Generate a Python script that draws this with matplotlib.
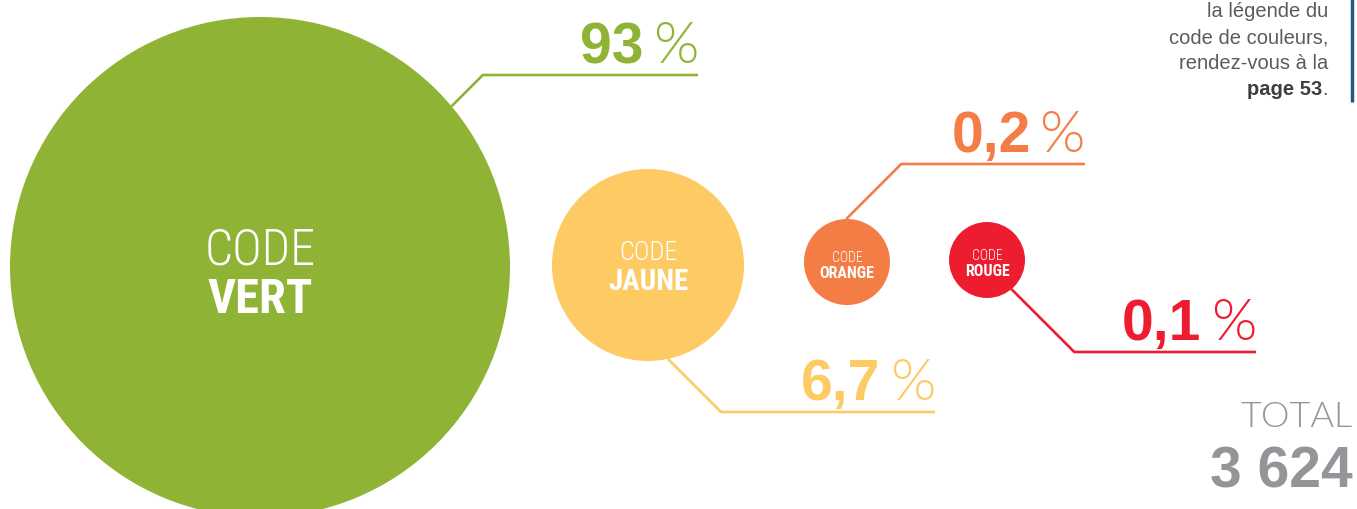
import matplotlib
matplotlib.use("Agg")
import matplotlib.pyplot as plt
from matplotlib.patches import Circle
from matplotlib import font_manager
import numpy as np

# Répartition des codes couleur
codes = ["VERT", "JAUNE", "ORANGE", "ROUGE"]
parts = [93, 6.7, 0.2, 0.1]
total = 3624
note_lines = ["la légende du", "code de couleurs,", "rendez-vous à la"]
note_page = "page 53"

colors = ["#8fb334", "#fdca64", "#f47c45", "#ed1c2f"]
grey = "#939598"
note_grey = "#5a5b5d"

# layout in pixels: centre, radius, angle of leader start, leader y, leader end x
centres = [(260, 268), (648, 266), (847, 263), (987, 261)]
radii = [250, 96, 43, 38]
start_deg = [-40, 78, -91, 50]
line_y = [76, 413, 165, 353]
line_end = [698, 935, 1085, 1256]
code_sizes = [(36, 35), (19, 21), (10, 11.5), (10, 11.5)]
code_base = [(265, 313), (260, 290), (262, 278), (260, 276)]

installed = {f.name for f in font_manager.fontManager.ttflist}
cond = next((f for f in ["Roboto Condensed", "Open Sans Condensed",
                         "Liberation Sans Narrow", "DejaVu Sans"] if f in installed))
thin = next((f for f in ["Lato", "Roboto", "Liberation Sans"] if f in installed))

W, H = 1357, 510
fig = plt.figure(figsize=(W / 100, H / 100), dpi=100)
ax = fig.add_axes([0, 0, 1, 1])
ax.set_xlim(0, W)
ax.set_ylim(H, 0)
ax.set_aspect("equal")
ax.axis("off")
fig.canvas.draw()
renderer = fig.canvas.get_renderer()


def fmt(v):
    return f"{v:g}".replace(".", ",")


for i, name in enumerate(codes):
    cx, cy = centres[i]
    r = radii[i]
    c = colors[i]
    ax.add_patch(Circle((cx, cy), r, color=c, lw=0, zorder=1))

    # leader: from the circle edge, 45 degrees to the label line
    a = np.radians(start_deg[i])
    x0, y0 = cx + r * np.cos(a), cy + r * np.sin(a)
    dy = line_y[i] - y0
    dx = abs(dy) * np.sign(np.cos(a) if abs(np.cos(a)) > 0.1 else 1)
    ax.plot([x0, x0 + dx, line_end[i]], [y0, line_y[i], line_y[i]],
            color=c, lw=1.9, solid_capstyle="butt", zorder=2)

    # "93 %" : bold number, light percent sign
    yb = line_y[i] - 13
    pct = ax.text(line_end[i], yb, "%", ha="right", va="baseline",
                  fontsize=42, color=c, family=thin, fontweight=300)
    bb = pct.get_window_extent(renderer).transformed(ax.transData.inverted())
    ax.text(min(bb.x0, bb.x1) - 9, yb, fmt(parts[i]), ha="right", va="baseline",
            fontsize=41, color=c, family="Liberation Sans", fontweight="bold")

    s1, s2 = code_sizes[i]
    b1, b2 = code_base[i]
    ax.text(cx, b1, "CODE", ha="center", va="baseline", fontsize=s1,
            color="white", family=cond, fontweight="light", fontstretch="condensed")
    ax.text(cx, b2, name, ha="center", va="baseline", fontsize=s2,
            color="white", family=cond, fontweight="bold", fontstretch="condensed")

# note in the top right corner
for k, line in enumerate(note_lines):
    ax.text(1328, 17 + 26 * k, line, ha="right", va="baseline", fontsize=14.5,
            color=note_grey, family="Liberation Sans")
dot = ax.text(1328, 95, ".", ha="right", va="baseline", fontsize=14.5,
              color=note_grey, family="Liberation Sans")
bb = dot.get_window_extent(renderer).transformed(ax.transData.inverted())
ax.text(min(bb.x0, bb.x1), 95, note_page, ha="right", va="baseline", fontsize=14.5,
        color="#3d3e40", family="Liberation Sans", fontweight="bold")
ax.plot([1352, 1352], [0, 103], color="#1f5a84", lw=2.5, solid_capstyle="butt")

# total
ax.text(1353, 427, "TOTAL", ha="right", va="baseline", fontsize=26,
        color=grey, family=thin, fontweight=300)
ax.text(1353, 488, f"{total:,}".replace(",", " "), ha="right", va="baseline",
        fontsize=41, color=grey, family="Liberation Sans", fontweight="bold")

fig.savefig("out.png", dpi=100)
